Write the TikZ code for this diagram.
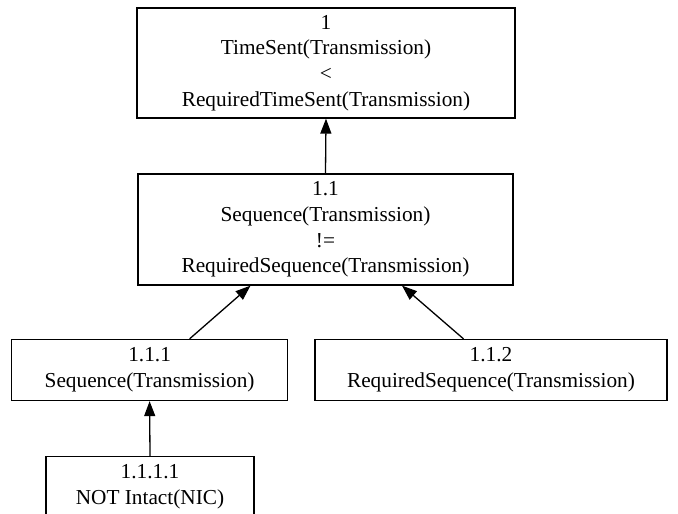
\documentclass[tikz,border=0pt]{standalone}
\usepackage{fontspec}
\setmainfont{Liberation Serif}
\usetikzlibrary{arrows.meta, calc}

\tikzset{
    goal/.style={draw, line width=1.3pt, align=center, inner sep=0pt,
        font=\fontsize{21.3pt}{25.6pt}\selectfont},
    refine/.style={line width=1.3pt, -{Triangle[length=15pt, width=11pt]}}
}

\begin{document}
\begin{tikzpicture}[x=1pt, y=-1pt]
    % Fix the page size
    \useasboundingbox (0,0) rectangle (678,514);

    % Draw the goal boxes
    \node[goal, minimum width=378pt, minimum height=110pt] (g1) at (326,63)
        {1\\TimeSent(Transmission)\\<\\RequiredTimeSent(Transmission)};
    \node[goal, minimum width=375pt, minimum height=111pt] (g11) at (325.5,229.5)
        {1.1\\Sequence(Transmission)\\!=\\RequiredSequence(Transmission)};
    \node[goal, minimum width=276pt, minimum height=61pt] (g111) at (149.6,370)
        {1.1.1\\Sequence(Transmission)};
    \node[goal, minimum width=352pt, minimum height=61pt] (g112) at (491,370)
        {1.1.2\\RequiredSequence(Transmission)};
    \node[goal, minimum width=208pt, minimum height=61pt] (g1111) at (150,487)
        {1.1.1.1\\NOT Intact(NIC)};

    % Draw the arrows to the parent goals
    \draw[refine] (g11.north) -- (g1.south);
    \draw[refine] ($(g111.north)+(40,0)$) -- ($(g11.south)+(-75,0)$);
    \draw[refine] ($(g112.north)+(-27.5,0)$) -- ($(g11.south)+(76.5,0)$);
    \draw[refine] (g1111.north) -- (g111.south);
\end{tikzpicture}
\end{document}
